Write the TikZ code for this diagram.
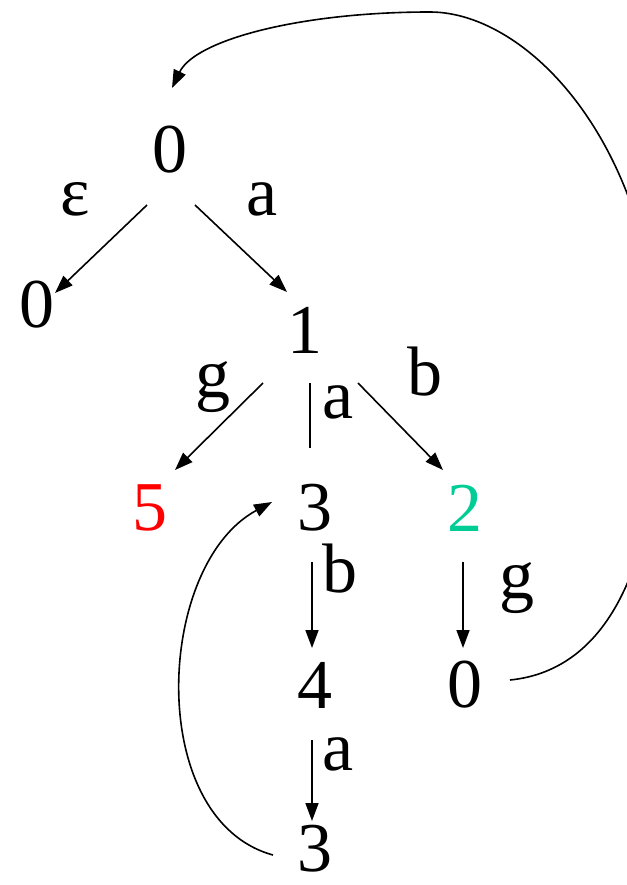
\documentclass[tikz,border=0pt]{standalone}
\usepackage{fontspec}
\setmainfont{Liberation Serif}
\newfontfamily\statefont{Liberation Serif}
\usetikzlibrary{arrows.meta}
\definecolor{finalred}{RGB}{255,0,0}
\definecolor{finalteal}{RGB}{0,204,150}
\tikzset{
  state/.style={inner sep=0pt, font=\statefont\fontsize{70}{80}\selectfont},
  sym/.style={inner sep=0pt, anchor=base, font=\statefont\fontsize{70}{80}\selectfont},
  arr/.style={line width=1.6pt, -{Triangle[length=18pt,width=13pt]}},
  stem/.style={line width=1.6pt}
}

\begin{document}
\begin{tikzpicture}[x=1pt,y=-1pt]
  \useasboundingbox (0,0) rectangle (626,885);

  % states
  \node[state] (r0) at (170,150) {0};
  \node[state] (n0) at (37,305) {0};
  \node[state] (n1) at (305,330) {1};
  \node[state, text=finalred] (n5) at (150,508) {5};
  \node[state] (n3) at (315,508) {3};
  \node[state, text=finalteal] (n2) at (465,508) {2};
  \node[state] (n4) at (315,685) {4};
  \node[state] (m0) at (465,685) {0};
  \node[state] (b3) at (315,849) {3};

  % edge labels
  \node[sym] (leps) at (75,215) {ε};
  \node[sym] (la1) at (262,215) {a};
  \node[sym] (lg1) at (213,397) {g};
  \node[sym] (la2) at (338,418) {a};
  \node[sym] (lb1) at (425,395) {b};
  \node[sym] (lb2) at (340,592) {b};
  \node[sym] (lg2) at (517,598) {g};
  \node[sym] (la3) at (338,770) {a};

  % edges
  \draw[arr] ([shift={(-23,55)}]r0.center) -- ([shift={(18,-12)}]n0.center);
  \draw[arr] ([shift={(25,55)}]r0.center) -- ([shift={(-18,-38)}]n1.center);
  \draw[arr] ([shift={(-42,53)}]n1.center) -- ([shift={(25,-38)}]n5.center);
  \draw[stem] ([shift={(5,53)}]n1.center) -- ([shift={(-5,-60)}]n3.center);
  \draw[arr] ([shift={(53,53)}]n1.center) -- ([shift={(-22,-38)}]n2.center);
  \draw[arr] ([shift={(-3,54)}]n3.center) -- ([shift={(-3,-37)}]n4.center);
  \draw[arr] ([shift={(-2,54)}]n2.center) -- ([shift={(-2,-37)}]m0.center);
  \draw[arr] ([shift={(-3,55)}]n4.center) -- ([shift={(-3,-28)}]b3.center);

  % back edges
  \draw[arr] ([shift={(-42,6)}]b3.center)
    .. controls (145,820) and (155,565) .. ([shift={(-43,-6)}]n3.center);
  \draw[arr] ([shift={(45,-5)}]m0.center)
    .. controls (610,670) and (660,560) .. (660,380)
    .. controls (660,150) and (530,12) .. (430,12)
    .. controls (300,12) and (195,40) .. ([shift={(2,-62)}]r0.center);
\end{tikzpicture}
\end{document}
